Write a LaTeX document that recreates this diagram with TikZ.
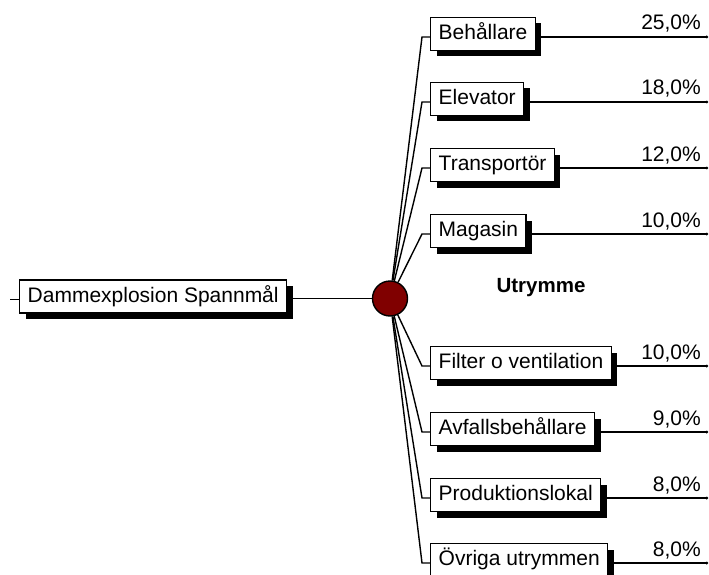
\documentclass[tikz,border=0pt]{standalone}
\usepackage{fontspec}
\setmainfont{Liberation Sans}
\usetikzlibrary{arrows.meta,positioning,shadows}
\definecolor{DRed}{RGB}{128,0,0}
\tikzset{
  box/.style={draw, line width=1.4pt, fill=white, anchor=west,
    inner xsep=8pt, inner ysep=0pt, minimum height=33pt,
    text height=15pt, text depth=4pt, font=\fontsize{21}{25}\selectfont,
    drop shadow={shadow xshift=6pt, shadow yshift=-6pt, fill=black, opacity=1}},
  pct/.style={font=\fontsize{21}{25}\selectfont, inner sep=0pt, anchor=base east},
  link/.style={line width=1.4pt}
}

\begin{document}
\begin{tikzpicture}[x=1pt,y=-1pt]
  \useasboundingbox (0,0) rectangle (709,575);
  % root and hub
  \node[box] (root) at (19,296.5) {Dammexplosion Spannmål};
  \node[circle, draw, line width=1.4pt, fill=DRed, minimum size=35pt, inner sep=0pt] (hub) at (390,298.5) {};
  \coordinate (stub) at (10,299.5);
  \draw[link] (stub) -- (stub -| root.west);
  \draw[link] (root.east |- hub) -- (hub);
  \node[font=\bfseries\fontsize{20.5}{24}\selectfont] (title) at (541,288) {Utrymme};
  % branches
  \foreach \n/\t/\c/\p in {a/Behållare/34/25, b/Elevator/99/18, c/Transportör/165/12,
      d/Magasin/231/10, e/Filter o ventilation/363/10, f/Avfallsbehållare/429/9,
      g/Produktionslokal/495/8, h/Övriga utrymmen/560/8}{
    \node[box] (\n) at (430,\c) {\t};
    \coordinate (k\n) at (422,\c+3);
    \coordinate (e\n) at (708,\c+3);
    \draw[link] (hub) -- (k\n) -- (k\n -| \n.west);
    \draw[link, -{Circle[length=2.5pt]}] (\n.east |- k\n) -- (e\n);
    \node[pct] (p\n) at (701,\c-4) {\p,0\%};
  }
\end{tikzpicture}
\end{document}
